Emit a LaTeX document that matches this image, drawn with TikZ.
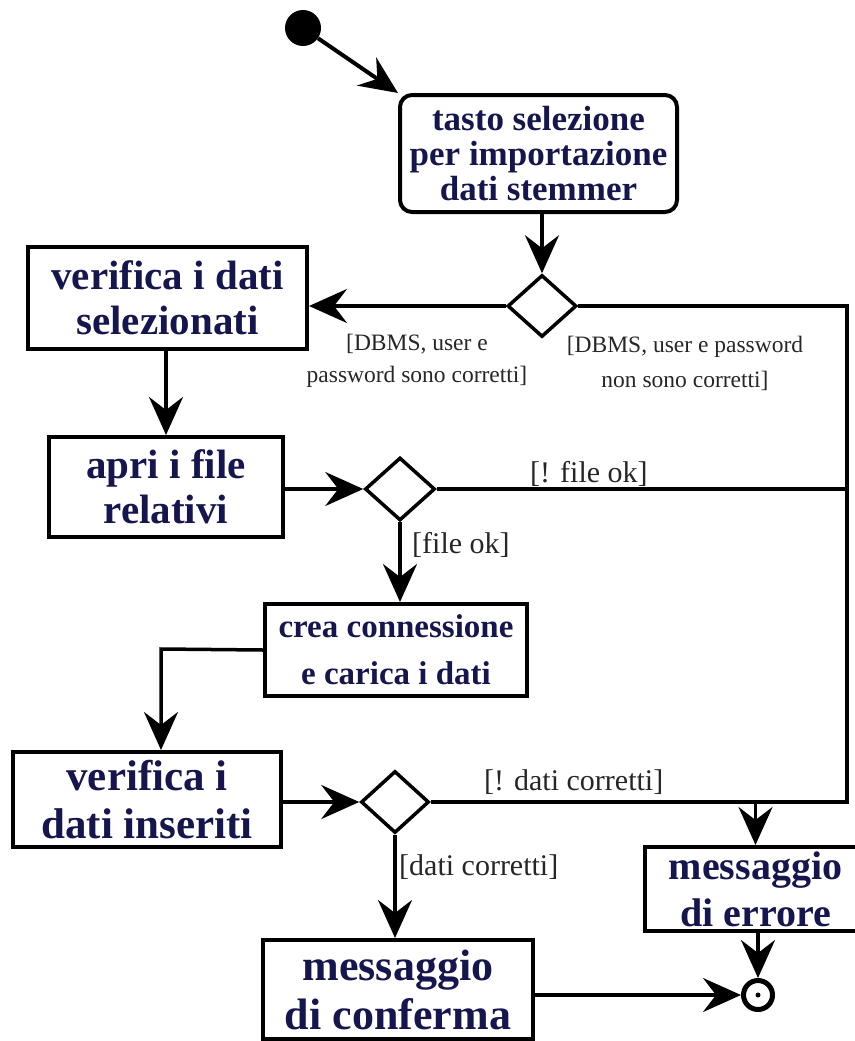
\documentclass[tikz,border=0pt]{standalone}
\usepackage{fontspec}
\setmainfont{Liberation Serif}
\usetikzlibrary{arrows.meta,shapes.geometric}
\definecolor{ink}{RGB}{22,22,78}
\begin{document}
\begin{tikzpicture}[x=1pt,y=-1pt,
  act/.style={draw,line width=4pt,rectangle,inner sep=0pt,align=center,text=ink},
  dec/.style={draw,line width=3.5pt,diamond,inner sep=0pt,minimum width=69pt,minimum height=62pt},
  flow/.style={line width=3.5pt,line join=miter,-{Stealth[length=38pt,width=34pt,inset=13pt]}},
  link/.style={line width=3.5pt,line join=miter},
  guard/.style={font=\fontsize{30}{34}\selectfont,inner sep=0pt,anchor=base west,text=black!85},
  dbms/.style={font=\fontsize{23.5}{32}\selectfont,inner sep=0pt,align=center,text=black!85},
]
\useasboundingbox (0,0) rectangle (854,1041);

% initial and final states
\node[circle,fill=black,minimum size=36pt,inner sep=0pt] (start) at (303,28) {};
\node[circle,draw,line width=5pt,minimum size=29pt,inner sep=0pt,
  path picture={\fill (path picture bounding box.center) circle (2.5pt);}] (stop) at (758,995) {};

% actions
\node[act,rounded corners=12pt,minimum width=277pt,minimum height=117pt,
  font=\bfseries\fontsize{35}{35}\selectfont] (sel) at (538.5,153.5)
  {tasto selezione\\per importazione\\dati stemmer};
\node[act,minimum width=279pt,minimum height=102pt,
  font=\bfseries\fontsize{41}{45}\selectfont] (verSel) at (167.5,298)
  {verifica i dati\\selezionati};
\node[act,minimum width=234pt,minimum height=100pt,
  font=\bfseries\fontsize{41}{45}\selectfont] (apri) at (166,487)
  {apri i file\\relativi};
\node[act,minimum width=262pt,minimum height=92pt,
  font=\bfseries\fontsize{33}{47}\selectfont] (crea) at (396,650)
  {crea connessione\\e carica i dati};
\node[act,minimum width=268pt,minimum height=95pt,
  font=\bfseries\fontsize{43}{48}\selectfont] (verIns) at (147,799.5)
  {verifica i\\dati inseriti};
\node[act,minimum width=270pt,minimum height=99pt,
  font=\bfseries\fontsize{44}{49}\selectfont] (conf) at (398,989.5)
  {messaggio\\di conferma};
\node[act,minimum width=221pt,minimum height=84pt,
  font=\bfseries\fontsize{40}{47}\selectfont] (err) at (755.5,889)
  {messaggio\\di errore};

% decisions
\node[dec] (d1) at (542,306) {};
\node[dec,minimum width=70pt,minimum height=63pt] (d2) at (400,489) {};
\node[dec,minimum width=68pt,minimum height=62pt] (d3) at (395,802) {};

% error rail on the right
\coordinate (r1) at (847,306);
\coordinate (r2) at (847,802);
\coordinate (bend) at (161,649);

% flows
\draw[flow,line width=4pt] (start) -- (sel.north west);
\draw[flow] (sel.south -| d1.north) -- (d1.north);
\draw[flow] (d1.west) -- (d1.west -| verSel.east);
\draw[link] (d1.east) -- (r1) -- (r2) -- (d3.east);
\draw[flow] (verSel.south -| apri.north) -- (apri.north);
\draw[flow] (d2.west -| apri.east) -- (d2.west);
\draw[link] (d2.east) -- (d2.east -| r1);
\draw[flow] (d2.south) -- (d2.south |- crea.north);
\draw[flow] (crea.west) -- (bend) -- (bend |- verIns.north);
\draw[flow] (verIns.east |- d3.west) -- (d3.west);
\draw[flow] (d3.east -| err.north) -- (err.north);
\draw[flow] (d3.south) -- (d3.south |- conf.north);
\draw[flow] (conf.east |- stop.west) -- (stop.west);
\draw[flow] (err.south -| stop.north) -- (stop.north);

% guards
\node[dbms] (gOk) at (417,361) {[DBMS, user e\\password sono corretti]};
\node[dbms,font=\fontsize{23.5}{35}\selectfont] (gKo) at (685,363) {[DBMS, user e password\\non sono corretti]};
\node[guard] (gFileKo) at (530,482) {[! file ok]};
\node[guard] (gFileOk) at (412,553) {[file ok]};
\node[guard] (gDatiKo) at (484,790) {[! dati corretti]};
\node[guard] (gDatiOk) at (399,875) {[dati corretti]};
\end{tikzpicture}
\end{document}
